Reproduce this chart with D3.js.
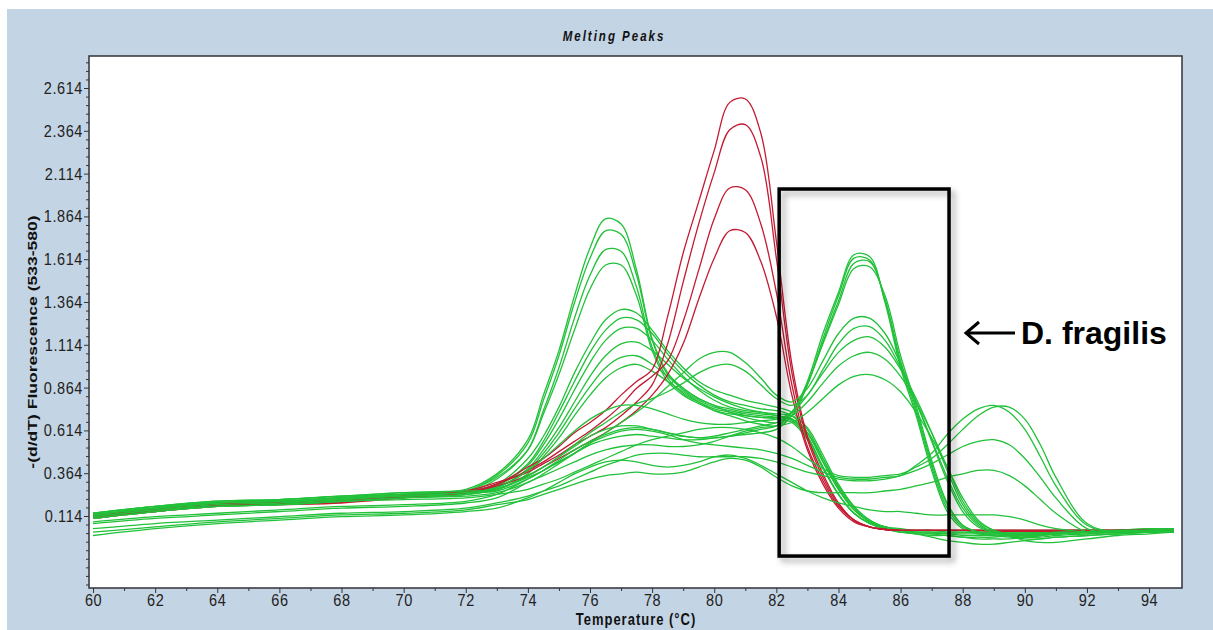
<!DOCTYPE html>
<meta charset="utf-8">
<body style="margin:0;background:#fff">
<svg id="chart" width="1213" height="630"></svg>
<script src="https://d3js.org/d3.v7.min.js"></script>
<script>
// temperature grid shared by every curve (°C)
const temps = [60, 62, 64, 66, 68, 70, 72, 73,
  74, 74.5, 75, 75.5, 76, 76.5, 77, 77.5, 78, 78.5, 79, 79.5, 80, 80.5, 81, 81.5, 82, 82.5,
  83, 83.5, 84, 84.5, 85, 85.5, 86, 86.5, 87, 87.5, 88, 88.5, 89, 89.5, 90, 90.5, 91,
  92, 93, 94, 94.8];

// -(d/dT) values, one array per sample
// red samples: single peak near 80.7 °C
const red1 = [0.11, 0.14, 0.175, 0.185, 0.195, 0.225, 0.25, 0.30,
  0.40, 0.45, 0.52, 0.60, 0.66, 0.73, 0.82, 0.90, 0.97, 1.28, 1.65, 1.95, 2.25, 2.53, 2.55, 2.35, 1.72, 1.00, 0.58, 0.36, 0.19, 0.09, 0.05, 0.035, 0.03,
  0.03, 0.03, 0.03, 0.03, 0.03, 0.025, 0.025, 0.025, 0.025, 0.025,
  0.025, 0.025, 0.025, 0.025];
const red2 = [0.12, 0.15, 0.18, 0.19, 0.20, 0.23, 0.26, 0.31,
  0.37, 0.42, 0.47, 0.53, 0.58, 0.63, 0.70, 0.78, 0.88, 1.12, 1.48, 1.82, 2.12, 2.37, 2.40, 2.21, 1.62, 0.95, 0.56, 0.34, 0.18, 0.09, 0.05, 0.035, 0.03,
  0.03, 0.03, 0.03, 0.03, 0.03, 0.03, 0.03, 0.03, 0.03, 0.03,
  0.03, 0.03, 0.03, 0.03];
const red3 = [0.10, 0.14, 0.17, 0.18, 0.19, 0.22, 0.25, 0.30,
  0.38, 0.43, 0.49, 0.55, 0.61, 0.68, 0.76, 0.86, 0.93, 1.02, 1.25, 1.55, 1.85, 2.03, 2.02, 1.82, 1.42, 0.88, 0.52, 0.32, 0.17, 0.09, 0.05, 0.035, 0.03,
  0.03, 0.03, 0.03, 0.03, 0.03, 0.03, 0.03, 0.03, 0.03, 0.03,
  0.03, 0.03, 0.03, 0.03];
const red4 = [0.11, 0.15, 0.18, 0.19, 0.20, 0.23, 0.25, 0.29,
  0.35, 0.40, 0.45, 0.50, 0.55, 0.60, 0.66, 0.73, 0.82, 0.94, 1.12, 1.38, 1.62, 1.78, 1.77, 1.60, 1.28, 0.82, 0.50, 0.30, 0.16, 0.08, 0.05, 0.035, 0.03,
  0.03, 0.03, 0.03, 0.03, 0.03, 0.03, 0.03, 0.03, 0.03, 0.03,
  0.03, 0.03, 0.03, 0.03];

// green samples
const g1 = [0.13, 0.17, 0.20, 0.21, 0.23, 0.25, 0.27, 0.36,
  0.56, 0.82, 1.08, 1.40, 1.68, 1.85, 1.82, 1.55, 1.15, 0.95, 0.86, 0.80, 0.76, 0.74, 0.72, 0.71, 0.70, 0.68, 0.58, 0.40, 0.24, 0.13, 0.07, 0.04, 0.03,
  0.03, 0.03, 0.02, 0.02, 0.02, 0.02, 0.02, 0.02, 0.02, 0.03,
  0.03, 0.03, 0.04, 0.04];
const g2 = [0.12, 0.16, 0.19, 0.20, 0.22, 0.24, 0.26, 0.35,
  0.54, 0.79, 1.05, 1.36, 1.62, 1.78, 1.76, 1.52, 1.14, 0.94, 0.85, 0.79, 0.75, 0.73, 0.71, 0.70, 0.69, 0.67, 0.57, 0.40, 0.24, 0.13, 0.07, 0.04, 0.02,
  0.01, 0.00, 0.00, -0.01, -0.01, -0.01, 0.00, 0.00, 0.01, 0.01,
  0.02, 0.02, 0.03, 0.03];
const g3 = [0.11, 0.15, 0.18, 0.19, 0.21, 0.23, 0.25, 0.33,
  0.50, 0.73, 0.98, 1.27, 1.52, 1.67, 1.66, 1.45, 1.10, 0.92, 0.83, 0.78, 0.74, 0.72, 0.70, 0.69, 0.69, 0.68, 0.60, 0.43, 0.27, 0.15, 0.08, 0.04, 0.02,
  0.01, 0.01, 0.01, 0.00, 0.00, 0.00, 0.00, 0.01, 0.01, 0.01,
  0.02, 0.03, 0.03, 0.03];
const g4 = [0.12, 0.16, 0.19, 0.20, 0.22, 0.24, 0.26, 0.34,
  0.50, 0.71, 0.94, 1.20, 1.44, 1.58, 1.58, 1.40, 1.08, 0.90, 0.82, 0.77, 0.73, 0.71, 0.70, 0.69, 0.68, 0.66, 0.56, 0.39, 0.24, 0.13, 0.07, 0.04, 0.02,
  0.02, 0.02, 0.02, 0.02, 0.02, 0.02, 0.02, 0.02, 0.02, 0.02,
  0.03, 0.03, 0.03, 0.04];
const g5 = [0.13, 0.17, 0.19, 0.21, 0.23, 0.24, 0.26, 0.30,
  0.45, 0.58, 0.75, 0.95, 1.12, 1.26, 1.32, 1.30, 1.20, 1.08, 0.98, 0.90, 0.85, 0.82, 0.79, 0.77, 0.75, 0.72, 0.62, 0.45, 0.28, 0.16, 0.08, 0.05, 0.03,
  0.02, 0.01, 0.00, -0.01, -0.02, -0.02, -0.02, -0.01, 0.00, 0.01,
  0.02, 0.02, 0.03, 0.03];
const g6 = [0.12, 0.16, 0.19, 0.20, 0.22, 0.24, 0.25, 0.29,
  0.42, 0.55, 0.72, 0.90, 1.07, 1.20, 1.27, 1.26, 1.18, 1.06, 0.96, 0.88, 0.82, 0.78, 0.76, 0.74, 0.73, 0.70, 0.60, 0.43, 0.27, 0.15, 0.08, 0.05, 0.04,
  0.03, 0.03, 0.03, 0.03, 0.03, 0.03, 0.03, 0.03, 0.03, 0.03,
  0.03, 0.03, 0.04, 0.04];
const g7 = [0.11, 0.15, 0.18, 0.19, 0.21, 0.23, 0.25, 0.29,
  0.41, 0.53, 0.68, 0.85, 1.01, 1.14, 1.21, 1.21, 1.14, 1.03, 0.93, 0.85, 0.79, 0.75, 0.73, 0.72, 0.71, 0.70, 0.63, 0.47, 0.30, 0.17, 0.09, 0.05, 0.03,
  0.01, -0.01, -0.03, -0.04, -0.05, -0.05, -0.04, -0.03, -0.02, -0.01,
  0.00, 0.01, 0.02, 0.02];
const g8 = [0.10, 0.14, 0.17, 0.18, 0.20, 0.22, 0.24, 0.28,
  0.39, 0.50, 0.63, 0.78, 0.93, 1.05, 1.12, 1.13, 1.08, 1.00, 0.92, 0.86, 0.81, 0.77, 0.74, 0.72, 0.70, 0.68, 0.60, 0.45, 0.29, 0.17, 0.09, 0.05, 0.03,
  0.02, 0.02, 0.01, 0.01, 0.01, 0.01, 0.01, 0.01, 0.02, 0.02,
  0.02, 0.03, 0.03, 0.03];
const g9 = [0.12, 0.16, 0.19, 0.20, 0.22, 0.24, 0.26, 0.28,
  0.38, 0.48, 0.60, 0.74, 0.87, 0.98, 1.04, 1.05, 1.00, 0.93, 0.86, 0.80, 0.76, 0.72, 0.69, 0.67, 0.66, 0.72, 0.90, 1.18, 1.42, 1.64, 1.63, 1.36, 0.98,
  0.70, 0.38, 0.14, 0.04, 0.01, 0.00, 0.00, 0.00, 0.01, 0.01,
  0.02, 0.02, 0.03, 0.03];
const g10 = [0.11, 0.15, 0.18, 0.19, 0.21, 0.23, 0.25, 0.27,
  0.36, 0.46, 0.57, 0.70, 0.82, 0.92, 0.98, 1.00, 0.96, 0.90, 0.84, 0.78, 0.73, 0.70, 0.67, 0.65, 0.64, 0.70, 0.88, 1.15, 1.40, 1.62, 1.61, 1.37, 1.00,
  0.72, 0.40, 0.16, 0.05, 0.02, 0.01, 0.01, 0.01, 0.01, 0.02,
  0.02, 0.03, 0.03, 0.03];
const g11 = [0.13, 0.17, 0.20, 0.21, 0.23, 0.25, 0.26, 0.27,
  0.35, 0.40, 0.46, 0.52, 0.58, 0.62, 0.64, 0.64, 0.62, 0.60, 0.58, 0.57, 0.57, 0.58, 0.59, 0.60, 0.62, 0.70, 0.88, 1.13, 1.37, 1.59, 1.60, 1.38, 1.02,
  0.74, 0.42, 0.18, 0.06, 0.02, 0.00, -0.01, -0.01, 0.00, 0.01,
  0.02, 0.02, 0.03, 0.03];
const g12 = [0.12, 0.16, 0.19, 0.20, 0.22, 0.23, 0.25, 0.26,
  0.33, 0.38, 0.43, 0.48, 0.53, 0.56, 0.58, 0.59, 0.58, 0.57, 0.56, 0.56, 0.57, 0.58, 0.60, 0.62, 0.64, 0.72, 0.89, 1.12, 1.35, 1.56, 1.57, 1.40, 1.05,
  0.76, 0.44, 0.19, 0.06, 0.02, 0.01, 0.01, 0.01, 0.01, 0.02,
  0.02, 0.03, 0.03, 0.03];
const g13 = [0.11, 0.15, 0.18, 0.19, 0.21, 0.23, 0.24, 0.27,
  0.34, 0.38, 0.43, 0.48, 0.54, 0.60, 0.66, 0.72, 0.79, 0.87, 0.95, 1.03, 1.07, 1.07, 1.01, 0.92, 0.82, 0.78, 0.86, 1.02, 1.18, 1.27, 1.27, 1.18, 1.00,
  0.78, 0.55, 0.32, 0.14, 0.05, 0.02, 0.01, 0.00, 0.00, 0.01,
  0.02, 0.02, 0.03, 0.03];
const g14 = [0.10, 0.14, 0.17, 0.18, 0.20, 0.22, 0.24, 0.27,
  0.35, 0.40, 0.46, 0.53, 0.60, 0.66, 0.72, 0.77, 0.80, 0.84, 0.89, 0.95, 0.99, 1.00, 0.96, 0.88, 0.80, 0.76, 0.82, 0.97, 1.12, 1.21, 1.22, 1.14, 0.98,
  0.78, 0.56, 0.34, 0.16, 0.06, 0.02, 0.00, -0.01, -0.01, 0.00,
  0.01, 0.02, 0.02, 0.03];
const g15 = [0.12, 0.16, 0.19, 0.20, 0.22, 0.24, 0.25, 0.28,
  0.38, 0.45, 0.53, 0.61, 0.68, 0.73, 0.76, 0.76, 0.74, 0.71, 0.68, 0.66, 0.65, 0.65, 0.66, 0.67, 0.68, 0.72, 0.82, 0.95, 1.07, 1.14, 1.16, 1.10, 0.97,
  0.80, 0.60, 0.38, 0.18, 0.07, 0.02, 0.00, -0.02, -0.02, -0.01,
  0.00, 0.01, 0.02, 0.02];
const g16 = [0.08, 0.11, 0.13, 0.15, 0.17, 0.18, 0.20, 0.24,
  0.33, 0.38, 0.44, 0.50, 0.55, 0.59, 0.62, 0.63, 0.62, 0.60, 0.58, 0.57, 0.58, 0.60, 0.62, 0.64, 0.66, 0.70, 0.78, 0.89, 0.99, 1.05, 1.07, 1.03, 0.93,
  0.78, 0.60, 0.40, 0.20, 0.08, 0.03, 0.01, 0.00, 0.00, 0.01,
  0.01, 0.02, 0.02, 0.03];
const g17 = [0.07, 0.10, 0.12, 0.14, 0.16, 0.17, 0.19, 0.22,
  0.31, 0.35, 0.39, 0.43, 0.47, 0.50, 0.52, 0.53, 0.53, 0.52, 0.52, 0.53, 0.55, 0.58, 0.61, 0.63, 0.64, 0.66, 0.72, 0.80, 0.88, 0.93, 0.94, 0.91, 0.84,
  0.72, 0.57, 0.40, 0.22, 0.09, 0.03, 0.00, -0.03, -0.04, -0.04,
  -0.02, 0.00, 0.01, 0.02];
const g18 = [0.11, 0.15, 0.17, 0.18, 0.20, 0.21, 0.22, 0.24,
  0.27, 0.30, 0.33, 0.37, 0.41, 0.45, 0.49, 0.53, 0.56, 0.58, 0.60, 0.62, 0.63, 0.63, 0.62, 0.60, 0.57, 0.52, 0.45, 0.39, 0.35, 0.34, 0.34, 0.35, 0.36,
  0.40, 0.45, 0.53, 0.62, 0.70, 0.75, 0.75, 0.68, 0.53, 0.34,
  0.07, 0.02, 0.03, 0.03];
const g19 = [0.10, 0.14, 0.17, 0.18, 0.20, 0.22, 0.23, 0.25,
  0.31, 0.36, 0.42, 0.48, 0.54, 0.58, 0.61, 0.62, 0.61, 0.59, 0.56, 0.54, 0.53, 0.52, 0.51, 0.50, 0.48, 0.45, 0.41, 0.37, 0.34, 0.33, 0.33, 0.34, 0.35,
  0.41, 0.48, 0.59, 0.68, 0.74, 0.76, 0.72, 0.62, 0.46, 0.29,
  0.06, 0.02, 0.03, 0.03];
const g20 = [0.04, 0.07, 0.09, 0.11, 0.13, 0.14, 0.16, 0.19,
  0.23, 0.26, 0.29, 0.33, 0.37, 0.41, 0.44, 0.47, 0.48, 0.48, 0.47, 0.46, 0.46, 0.46, 0.46, 0.45, 0.43, 0.40, 0.37, 0.35, 0.33, 0.32, 0.32, 0.33, 0.35,
  0.38, 0.42, 0.47, 0.52, 0.55, 0.56, 0.53, 0.45, 0.34, 0.22,
  0.04, 0.02, 0.02, 0.03];
const g21 = [0.02, 0.05, 0.08, 0.10, 0.12, 0.13, 0.15, 0.18,
  0.21, 0.24, 0.27, 0.30, 0.33, 0.35, 0.36, 0.37, 0.36, 0.36, 0.37, 0.40, 0.43, 0.45, 0.44, 0.40, 0.34, 0.29, 0.26, 0.25, 0.25, 0.25, 0.25, 0.26, 0.27,
  0.29, 0.31, 0.34, 0.36, 0.38, 0.38, 0.35, 0.29, 0.21, 0.13,
  0.02, 0.01, 0.02, 0.02];
const g22 = [0.00, 0.04, 0.07, 0.09, 0.11, 0.12, 0.14, 0.16,
  0.22, 0.26, 0.31, 0.36, 0.40, 0.43, 0.44, 0.43, 0.41, 0.40, 0.41, 0.43, 0.46, 0.47, 0.45, 0.41, 0.36, 0.31, 0.26, 0.22, 0.19, 0.17, 0.15, 0.14, 0.14,
  0.13, 0.12, 0.12, 0.12, 0.12, 0.12, 0.11, 0.09, 0.06, 0.04,
  0.02, 0.02, 0.02, 0.03];

const xTicks = [60, 62, 64, 66, 68, 70, 72, 74, 76, 78, 80, 82, 84, 86, 88, 90, 92, 94];
const yTicks = [0.114, 0.364, 0.614, 0.864, 1.114, 1.364, 1.614, 1.864, 2.114, 2.364, 2.614];

// drawing order: greens, reds, then the rest of the greens on top
const layers = [
  {color: "#22c13a", curves: [g1, g2, g3, g4, g5, g6, g7, g8, g9, g10]},
  {color: "#c41a32", curves: [red1, red2, red3, red4]},
  {color: "#22c13a", curves: [g11, g12, g13, g14, g15, g16, g17, g18, g19, g20, g21, g22]}
];

const W = 1213, H = 630;
const plot = {left: 89, top: 56, right: 1182, bottom: 588};
const font = "'Liberation Sans', Arial, sans-serif";

const svg = d3.select("#chart");
const defs = svg.append("defs");
defs.append("clipPath").attr("id", "clip")
  .append("rect")
  .attr("x", plot.left).attr("y", plot.top)
  .attr("width", plot.right - plot.left).attr("height", plot.bottom - plot.top);
defs.append("filter").attr("id", "shadow")
  .attr("x", "-20%").attr("y", "-10%").attr("width", "150%").attr("height", "125%")
  .append("feDropShadow")
  .attr("dx", 4).attr("dy", 4).attr("stdDeviation", 3)
  .attr("flood-color", "#000").attr("flood-opacity", 0.35);

// window panel
svg.append("rect").attr("x", 7).attr("y", 9).attr("width", W - 7).attr("height", H - 9)
  .attr("fill", "#c3d4e4");
svg.append("rect").attr("x", plot.left).attr("y", plot.top)
  .attr("width", plot.right - plot.left).attr("height", plot.bottom - plot.top)
  .attr("fill", "#fff");

const x = d3.scaleLinear().domain([59.87, 95.06]).range([plot.left, plot.right]);
const y = d3.scaleLinear().domain([-0.3066, 2.801]).range([plot.bottom, plot.top]);

const line = d3.line()
  .x((d, i) => x(temps[i]))
  .y(d => y(d))
  .curve(d3.curveCatmullRom.alpha(0.5));

const curvesG = svg.append("g").attr("clip-path", "url(#clip)");
layers.forEach(layer => {
  curvesG.append("g")
    .selectAll("path")
    .data(layer.curves)
    .join("path")
    .attr("d", line)
    .attr("fill", "none")
    .attr("stroke", layer.color)
    .attr("stroke-width", 1.3);
});

// frame
svg.append("rect").attr("x", plot.left).attr("y", plot.top)
  .attr("width", plot.right - plot.left).attr("height", plot.bottom - plot.top)
  .attr("fill", "none").attr("stroke", "#3c3c44").attr("stroke-width", 1.6);

// axes
const stretch = "scale(1,1.2)";
const yAxis = svg.append("g").attr("transform", `translate(${plot.left},0)`)
  .call(d3.axisLeft(y).tickValues(yTicks).tickFormat(d3.format(".3f")).tickSize(5).tickSizeOuter(0));
const yMinor = d3.range(-0.286, 2.8, 0.05).filter(v => !yTicks.some(t => Math.abs(t - v) < 0.01));
svg.append("g").attr("transform", `translate(${plot.left},0)`)
  .call(d3.axisLeft(y).tickValues(yMinor).tickFormat("").tickSize(3).tickSizeOuter(0));

const xAxis = svg.append("g").attr("transform", `translate(0,${plot.bottom})`)
  .call(d3.axisBottom(x).tickValues(xTicks).tickFormat(d3.format("d")).tickSize(5).tickSizeOuter(0));
svg.append("g").attr("transform", `translate(0,${plot.bottom})`)
  .call(d3.axisBottom(x).tickValues(d3.range(61, 95, 2)).tickFormat("").tickSize(3).tickSizeOuter(0));

svg.selectAll(".domain").remove();
svg.selectAll(".tick line").attr("stroke", "#333");
[yAxis, xAxis].forEach(a => a.selectAll("text")
  .attr("font-family", font).attr("font-size", 14.5)
  .attr("letter-spacing", 0.6).attr("fill", "#222")
  .attr("transform", stretch));
yAxis.selectAll("text").attr("x", -6);
xAxis.selectAll("text").attr("y", 5);

// titles
svg.append("text")
  .attr("transform", "translate(614,41) scale(1,1.3)")
  .attr("text-anchor", "middle")
  .attr("font-family", font).attr("font-size", 11.5)
  .attr("font-weight", "bold").attr("font-style", "italic")
  .attr("letter-spacing", 2).attr("fill", "#111")
  .text("Melting Peaks");

svg.append("text")
  .attr("transform", "translate(636,625) scale(1,1.25)")
  .attr("text-anchor", "middle")
  .attr("font-family", font).attr("font-size", 13)
  .attr("font-weight", "bold").attr("letter-spacing", 1)
  .attr("fill", "#111")
  .text("Temperature (°C)");

svg.append("text")
  .attr("transform", "translate(37,342) scale(1,1.3) rotate(-90)")
  .attr("text-anchor", "middle")
  .attr("font-family", font).attr("font-size", 13.5)
  .attr("font-weight", "bold").attr("fill", "#111")
  .text("-(d/dT) Fluorescence (533-580)");

// highlight box around the 84-85 °C peaks
const box = {t0: 82.09, t1: 87.56, v0: -0.12, v1: 2.024};
svg.append("rect")
  .attr("x", x(box.t0)).attr("y", y(box.v1))
  .attr("width", x(box.t1) - x(box.t0)).attr("height", y(box.v0) - y(box.v1))
  .attr("fill", "none").attr("stroke", "#000").attr("stroke-width", 3.5)
  .attr("filter", "url(#shadow)");

// arrow + label
const arrow = svg.append("g").attr("stroke", "#000").attr("stroke-width", 3)
  .attr("fill", "none").attr("stroke-linecap", "butt");
arrow.append("line").attr("x1", 966).attr("y1", 333).attr("x2", 1015).attr("y2", 333);
arrow.append("path").attr("d", "M979,322 L966,333 L979,344");

svg.append("text")
  .attr("x", 1021).attr("y", 344)
  .attr("font-family", font).attr("font-size", 32)
  .attr("font-weight", "bold").attr("fill", "#000")
  .text("D. fragilis");
</script>
</body>
